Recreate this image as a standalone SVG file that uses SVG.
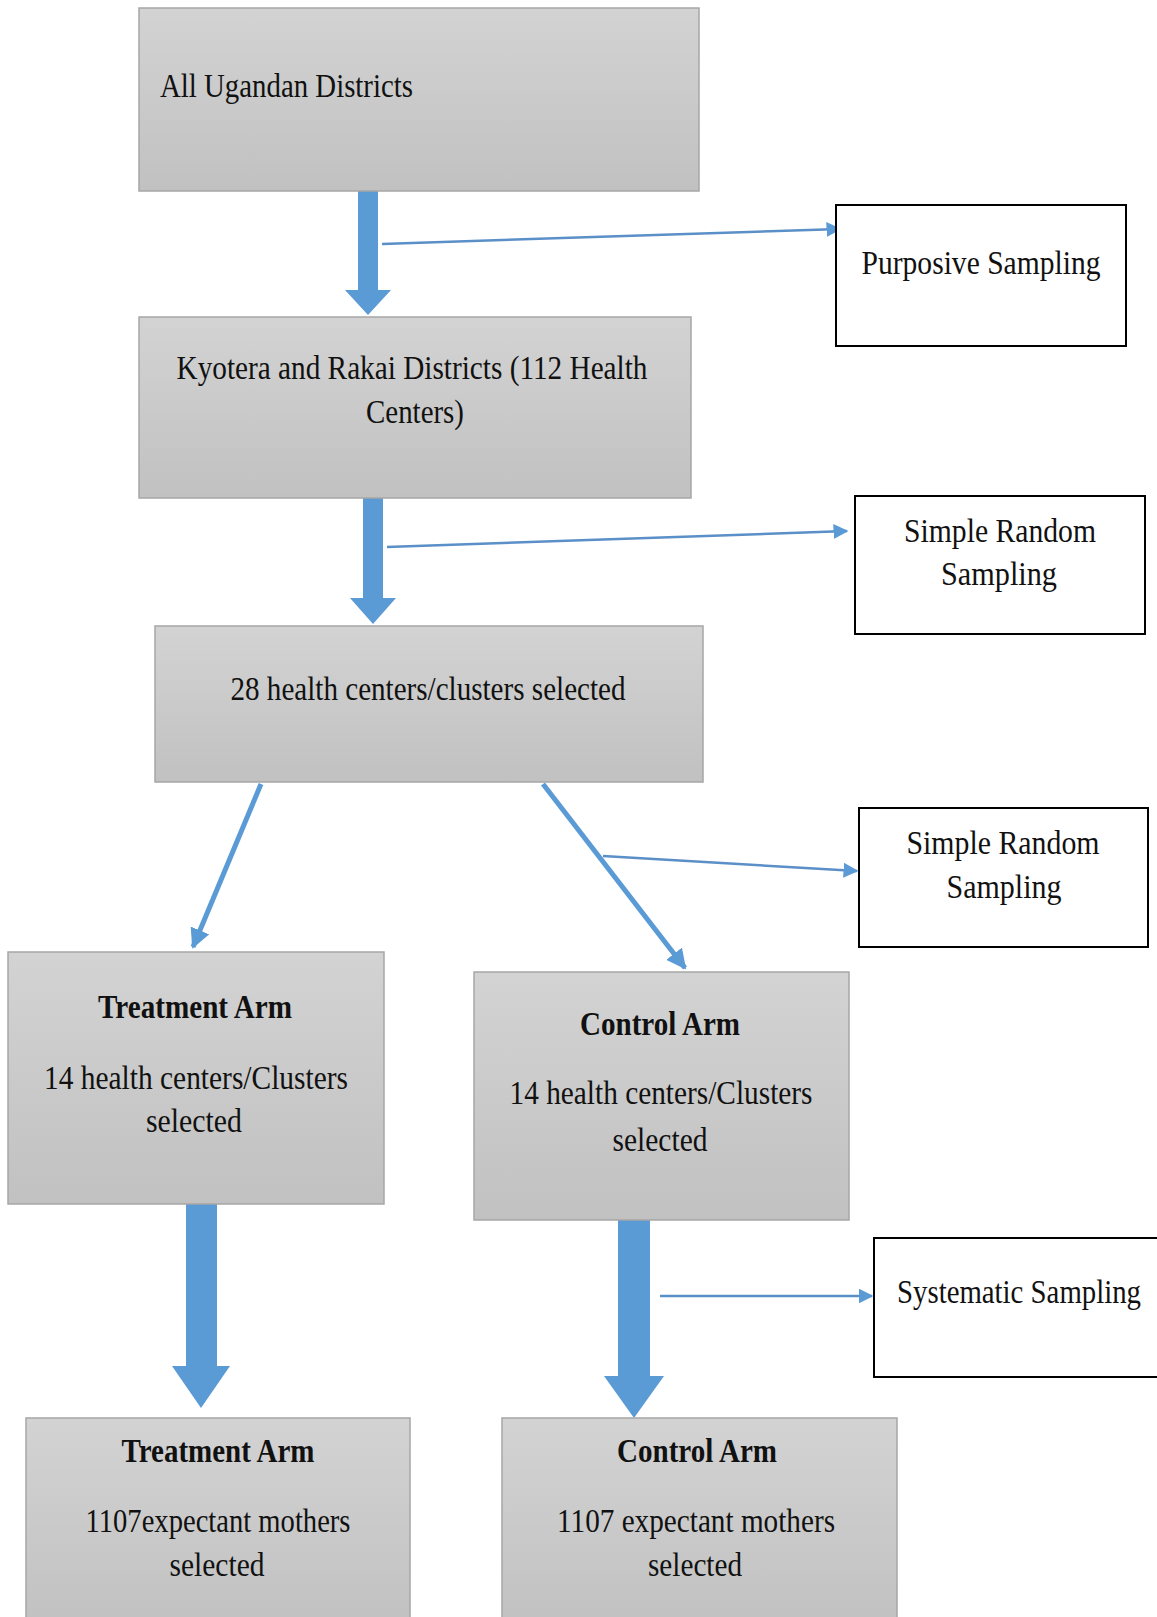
<svg xmlns="http://www.w3.org/2000/svg" width="1157" height="1617" viewBox="0 0 1157 1617">
<style>
.box{fill:url(#g);stroke:#a6a6a6;stroke-width:1.5}
.wbox{fill:#fff;stroke:#000;stroke-width:2}
.t{font-family:"Liberation Serif","Times New Roman",serif;font-size:34px;fill:#111;text-anchor:middle}
.b{font-weight:bold}
.thin{stroke:#5b8fc7;stroke-width:2.5;fill:none}
.diag{stroke:#5b9bd5;stroke-width:5;fill:none}
.fat{fill:#5b9bd5}
</style>
<defs>
<linearGradient id="g" x1="0" y1="0" x2="0" y2="1">
<stop offset="0" stop-color="#d3d3d3"/>
<stop offset="1" stop-color="#c1c1c1"/>
</linearGradient>
<marker id="ah" viewBox="0 0 10 10" refX="9" refY="5" markerWidth="6" markerHeight="6" orient="auto" markerUnits="strokeWidth">
<path d="M0,0 L10,5 L0,10 z" fill="#5b9bd5"/>
</marker>
<marker id="ah2" viewBox="0 0 10 10" refX="9" refY="5" markerWidth="4" markerHeight="4" orient="auto" markerUnits="strokeWidth">
<path d="M0,0 L10,5 L0,10 z" fill="#5b9bd5"/>
</marker>
</defs>
<rect width="1157" height="1617" fill="#fff"/>

<g id="connectors">
<path class="fat" d="M358,191 H378 V290 H391 L368,315 L345,290 H358 Z"/>
<line class="thin" x1="382" y1="244" x2="840" y2="229" marker-end="url(#ah)"/>
<path class="fat" d="M363,498 H383 V598 H396 L373,624 L350,598 H363 Z"/>
<line class="thin" x1="387" y1="547" x2="847" y2="531" marker-end="url(#ah)"/>
<line class="diag" x1="261" y1="784" x2="193" y2="947" marker-end="url(#ah2)"/>
<line class="diag" x1="543" y1="784" x2="685" y2="968" marker-end="url(#ah2)"/>
<line class="thin" x1="603" y1="856" x2="857" y2="871" marker-end="url(#ah)"/>
<path class="fat" d="M186,1204 H217 V1366 H230 L201,1408 L172,1366 H186 Z"/>
<path class="fat" d="M618,1215 H650 V1376 H664 L634,1418 L604,1376 H618 Z"/>
<line class="thin" x1="660" y1="1296" x2="872" y2="1296" marker-end="url(#ah)"/>
</g>

<g id="n1"><rect class="box" x="139" y="8" width="560" height="183"/>
<text class="t" x="160" y="97" style="text-anchor:start" textLength="253" lengthAdjust="spacingAndGlyphs">All Ugandan Districts</text></g>

<g id="n_purposive"><rect class="wbox" x="836" y="205" width="290" height="141"/>
<text class="t" x="981" y="274" textLength="239" lengthAdjust="spacingAndGlyphs">Purposive Sampling</text></g>

<g id="n2"><rect class="box" x="139" y="317" width="552" height="181"/>
<text class="t" x="412" y="379" textLength="471" lengthAdjust="spacingAndGlyphs">Kyotera and Rakai Districts (112 Health</text>
<text class="t" x="415" y="423" textLength="98" lengthAdjust="spacingAndGlyphs">Centers)</text></g>

<g id="n_srs1"><rect class="wbox" x="855" y="496" width="290" height="138"/>
<text class="t" x="1000" y="542" textLength="192" lengthAdjust="spacingAndGlyphs">Simple Random</text>
<text class="t" x="999" y="585" textLength="116" lengthAdjust="spacingAndGlyphs">Sampling</text></g>

<g id="n3"><rect class="box" x="155" y="626" width="548" height="156"/>
<text class="t" x="428" y="700" textLength="395" lengthAdjust="spacingAndGlyphs">28 health centers/clusters selected</text></g>

<g id="n_srs2"><rect class="wbox" x="859" y="808" width="289" height="139"/>
<text class="t" x="1003" y="854" textLength="193" lengthAdjust="spacingAndGlyphs">Simple Random</text>
<text class="t" x="1004" y="898" textLength="115" lengthAdjust="spacingAndGlyphs">Sampling</text></g>

<g id="n_treat1"><rect class="box" x="8" y="952" width="376" height="252"/>
<text class="t b" x="195" y="1018" textLength="194" lengthAdjust="spacingAndGlyphs">Treatment Arm</text>
<text class="t" x="196" y="1089" textLength="304" lengthAdjust="spacingAndGlyphs">14 health centers/Clusters</text>
<text class="t" x="194" y="1132" textLength="96" lengthAdjust="spacingAndGlyphs">selected</text></g>

<g id="n_ctrl1"><rect class="box" x="474" y="972" width="375" height="248"/>
<text class="t b" x="660" y="1035" textLength="160" lengthAdjust="spacingAndGlyphs">Control Arm</text>
<text class="t" x="661" y="1104" textLength="303" lengthAdjust="spacingAndGlyphs">14 health centers/Clusters</text>
<text class="t" x="660" y="1151" textLength="95" lengthAdjust="spacingAndGlyphs">selected</text></g>

<g id="n_sys"><rect class="wbox" x="874" y="1238" width="290" height="139"/>
<text class="t" x="1019" y="1303" textLength="244" lengthAdjust="spacingAndGlyphs">Systematic Sampling</text></g>

<g id="n_treat2"><rect class="box" x="26" y="1418" width="384" height="210"/>
<text class="t b" x="218" y="1462" textLength="193" lengthAdjust="spacingAndGlyphs">Treatment Arm</text>
<text class="t" x="218" y="1532" textLength="265" lengthAdjust="spacingAndGlyphs">1107expectant mothers</text>
<text class="t" x="217" y="1576" textLength="95" lengthAdjust="spacingAndGlyphs">selected</text></g>

<g id="n_ctrl2"><rect class="box" x="502" y="1418" width="395" height="210"/>
<text class="t b" x="697" y="1462" textLength="160" lengthAdjust="spacingAndGlyphs">Control Arm</text>
<text class="t" x="696" y="1532" textLength="278" lengthAdjust="spacingAndGlyphs">1107 expectant mothers</text>
<text class="t" x="695" y="1576" textLength="94" lengthAdjust="spacingAndGlyphs">selected</text></g>
</svg>
